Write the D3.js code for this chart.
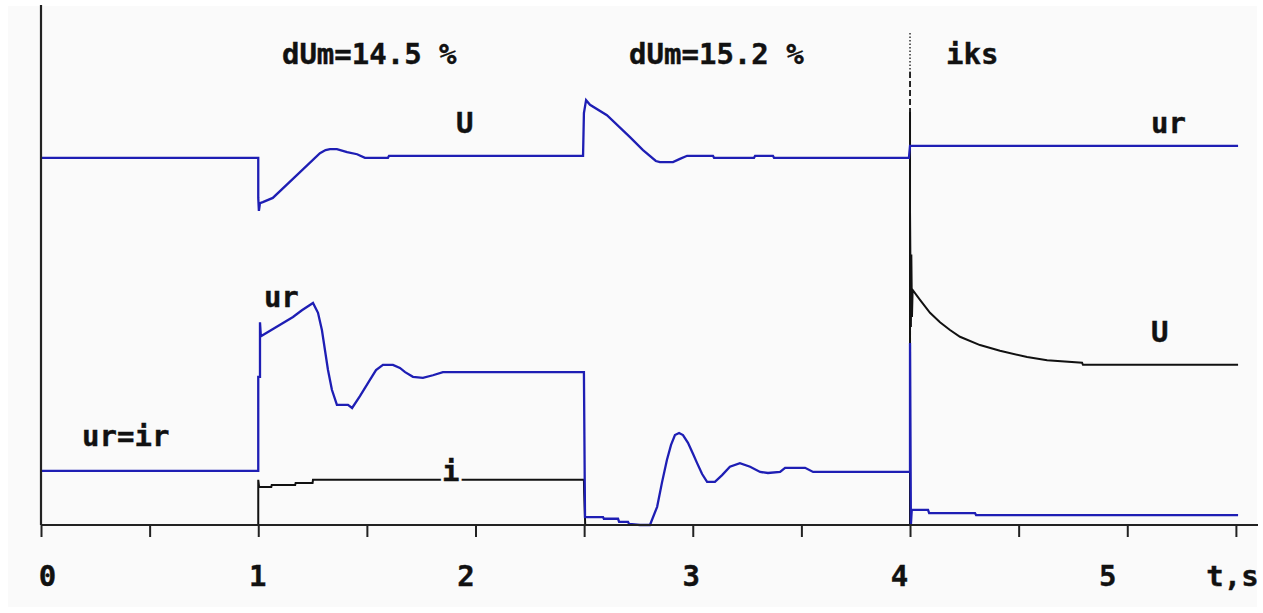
<!DOCTYPE html>
<html>
<head>
<meta charset="utf-8">
<script src="https://cdn.jsdelivr.net/npm/d3@7/dist/d3.min.js"></script>
<style>
  html, body { margin: 0; padding: 0; background: #ffffff; }
  svg { display: block; }
  .lbl { font-family: "DejaVu Sans Mono", "Liberation Mono", monospace; font-weight: bold; font-size: 29px; fill: #111; }
</style>
</head>
<body>
<svg id="chart" width="1263" height="613"></svg>
<script>
// ---------- data (t in seconds, values in relative units) ----------
const xTicks = [0, 0.5, 1, 1.5, 2, 2.5, 3, 3.5, 4, 4.5, 5, 5.5];
const xTickLabels = ["0", "", "1", "", "2", "", "3", "", "4", "", "5", "t,s"];

// upper blue trace: U (0..4 s), then ur after short circuit
const uTopT = [0, 1.0, 1.0, 1.003, 1.008, 1.021, 1.067, 1.168, 1.284, 1.310, 1.330, 1.362, 1.409, 1.455, 1.491, 1.597, 1.602,
  2.495, 2.499, 2.509, 2.527, 2.605, 2.711, 2.771, 2.830, 2.849, 2.909, 2.941, 2.974, 3.093, 3.098, 3.282, 3.287, 3.369, 3.374,
  3.995, 4.0, 5.51];
const uTopV = [7.06, 7.06, 6.29, 6.04, 6.19, 6.21, 6.29, 6.69, 7.15, 7.21, 7.23, 7.23, 7.17, 7.13, 7.06, 7.06, 7.10,
  7.10, 7.92, 8.17, 8.08, 7.88, 7.46, 7.21, 7.00, 6.98, 6.98, 7.04, 7.10, 7.10, 7.06, 7.06, 7.10, 7.10, 7.06,
  7.06, 7.29, 7.29];

// middle blue trace: ur (= ir before 1 s)
const urT = [0, 1.0, 1.0, 1.008, 1.008, 1.012, 1.160, 1.201, 1.252, 1.275, 1.293, 1.321, 1.339, 1.362, 1.413, 1.432,
  1.468, 1.514, 1.542, 1.574, 1.620, 1.652, 1.676, 1.712, 1.758, 1.804, 1.850, 2.499, 2.504, 2.587, 2.591, 2.656,
  2.661, 2.702, 2.707, 2.757, 2.803, 2.836, 2.858, 2.881, 2.900, 2.918, 2.937, 2.955, 2.978, 3.001, 3.020, 3.043,
  3.066, 3.102, 3.135, 3.171, 3.217, 3.264, 3.310, 3.346, 3.402, 3.425, 3.517, 3.554, 4.0, 4.0, 4.004, 4.008,
  4.083, 4.088, 4.299, 4.304, 5.51];
const urV = [1.04, 1.04, 2.85, 2.85, 3.90, 3.63, 4.00, 4.13, 4.27, 4.08, 3.75, 2.98, 2.60, 2.31, 2.31, 2.25,
  2.48, 2.79, 2.98, 3.08, 3.08, 3.02, 2.94, 2.85, 2.83, 2.88, 2.94, 2.94, 0.15, 0.15, 0.12, 0.12,
  0.06, 0.06, 0.02, 0.0, 0.0, 0.35, 0.81, 1.25, 1.54, 1.73, 1.77, 1.73, 1.58, 1.37, 1.19, 0.98,
  0.83, 0.83, 0.96, 1.12, 1.19, 1.12, 1.02, 1.00, 1.02, 1.10, 1.10, 1.02, 1.02, 3.50, 0.0, 0.29,
  0.29, 0.23, 0.23, 0.19, 0.19];

// black trace: current i, then U after short circuit
const iT = [0, 1.0, 1.0, 1.004, 1.060, 1.062, 1.170, 1.172, 1.250, 1.252, 2.499, 2.5, 2.505, 4.0, 4.0, 4.004, 4.006,
  4.009, 4.012, 4.046, 4.092, 4.138, 4.184, 4.230, 4.322, 4.414, 4.539, 4.631, 4.792, 4.796, 5.51];
const iV = [0, 0, 0.87, 0.73, 0.73, 0.77, 0.77, 0.81, 0.81, 0.87, 0.87, 0.62, 0, 0, 6.0, 3.81, 5.2,
  4.0, 4.52, 4.33, 4.08, 3.90, 3.75, 3.62, 3.46, 3.35, 3.23, 3.17, 3.12, 3.08, 3.08];

// short-circuit marker
const iksT = 4;
const iksTop = 9.46;

// annotations
const labelText = ["dUm=14.5 %", "dUm=15.2 %", "iks", "U", "ur", "ur", "U", "ur=ir", "i"];
const labelT    = [1.109, 2.707, 4.166, 1.910, 5.109, 1.026, 5.109, 0.189, 1.846];
const labelV    = [8.865, 8.865, 8.865, 7.54, 7.54, 4.19, 3.52, 1.52, 0.85];
const labelKnock = [false, false, false, false, false, true, false, false, true];

// ---------- drawing ----------
const svg = d3.select("#chart");
const BG = "#fafafa", BLUE = "#1e1eb4", INK = "#111";

svg.append("rect").attr("x", 8).attr("y", 6).attr("width", 1249).attr("height", 601).attr("fill", BG);

const x = d3.scaleLinear().domain([0, 5.5]).range([41, 1235.9]);
const y = d3.scaleLinear().domain([0, 10]).range([525, 5]);

// marker line at t = 4
const m = svg.append("g").attr("stroke", INK).attr("fill", "none");
m.append("line").attr("x1", x(iksT)).attr("x2", x(iksT)).attr("y1", y(iksTop)).attr("y2", y(8.71))
  .attr("stroke-width", 1.3).attr("stroke-dasharray", "1.5,2");
m.append("line").attr("x1", x(iksT)).attr("x2", x(iksT)).attr("y1", y(8.71)).attr("y2", y(7.94))
  .attr("stroke-width", 1.8).attr("stroke-dasharray", "6,3");
m.append("line").attr("x1", x(iksT)).attr("x2", x(iksT)).attr("y1", y(7.94)).attr("y2", y(0))
  .attr("stroke-width", 2);

const line = d3.line().x(d => x(d[0])).y(d => y(d[1]));
const zip = (a, b) => a.map((t, k) => [t, b[k]]);

svg.append("path").datum(zip(iT, iV)).attr("d", line)
  .attr("fill", "none").attr("stroke", INK).attr("stroke-width", 2);
svg.append("path").datum(zip(uTopT, uTopV)).attr("d", line)
  .attr("fill", "none").attr("stroke", BLUE).attr("stroke-width", 2.3);
svg.append("path").datum(zip(urT, urV)).attr("d", line)
  .attr("fill", "none").attr("stroke", BLUE).attr("stroke-width", 2.3);

// axes
svg.append("line").attr("x1", x(0)).attr("x2", x(0)).attr("y1", 5).attr("y2", y(0))
  .attr("stroke", "#222").attr("stroke-width", 2.2);
svg.append("line").attr("x1", x(0)).attr("x2", 1258).attr("y1", y(0)).attr("y2", y(0))
  .attr("stroke", "#222").attr("stroke-width", 2.2);

const labelShift = { "0": 6, "1": -1, "2": -10, "3": -2, "4": -11, "5": -20, "t,s": -4 };
const xAxis = d3.axisBottom(x).tickValues(xTicks).tickSize(12).tickPadding(0)
  .tickFormat((d, k) => xTickLabels[k]);
const gx = svg.append("g").attr("transform", `translate(0,${y(0)})`).call(xAxis);
gx.select(".domain").remove();
gx.attr("font-family", null).attr("font-size", null);
gx.selectAll(".tick line").attr("stroke", "#222").attr("stroke-width", 2);
gx.selectAll(".tick text")
  .attr("class", "lbl")
  .attr("y", 61).attr("dy", 0)
  .attr("dx", function () { return labelShift[this.textContent] || 0; })
  .attr("text-anchor", "middle")
  .attr("fill", INK).attr("stroke", INK).attr("stroke-width", 0.4);

// annotations: knock-out halos first, then the text
const ann = svg.append("g");
ann.selectAll("text.halo").data(labelText.filter((d, k) => labelKnock[k]).map((d) => d)).join("text");
ann.selectAll("text").remove();
labelText.forEach((d, k) => {
  if (labelKnock[k]) {
    ann.append("text").attr("class", "lbl")
      .attr("x", x(labelT[k])).attr("y", y(labelV[k]))
      .attr("fill", BG).attr("stroke", BG).attr("stroke-width", 6)
      .text(d);
  }
});
ann.selectAll("text.main").data(labelText).join("text")
  .attr("class", "lbl main")
  .attr("x", (d, k) => x(labelT[k]))
  .attr("y", (d, k) => y(labelV[k]))
  .attr("stroke", INK).attr("stroke-width", 0.4)
  .text(d => d);
</script>
</body>
</html>
